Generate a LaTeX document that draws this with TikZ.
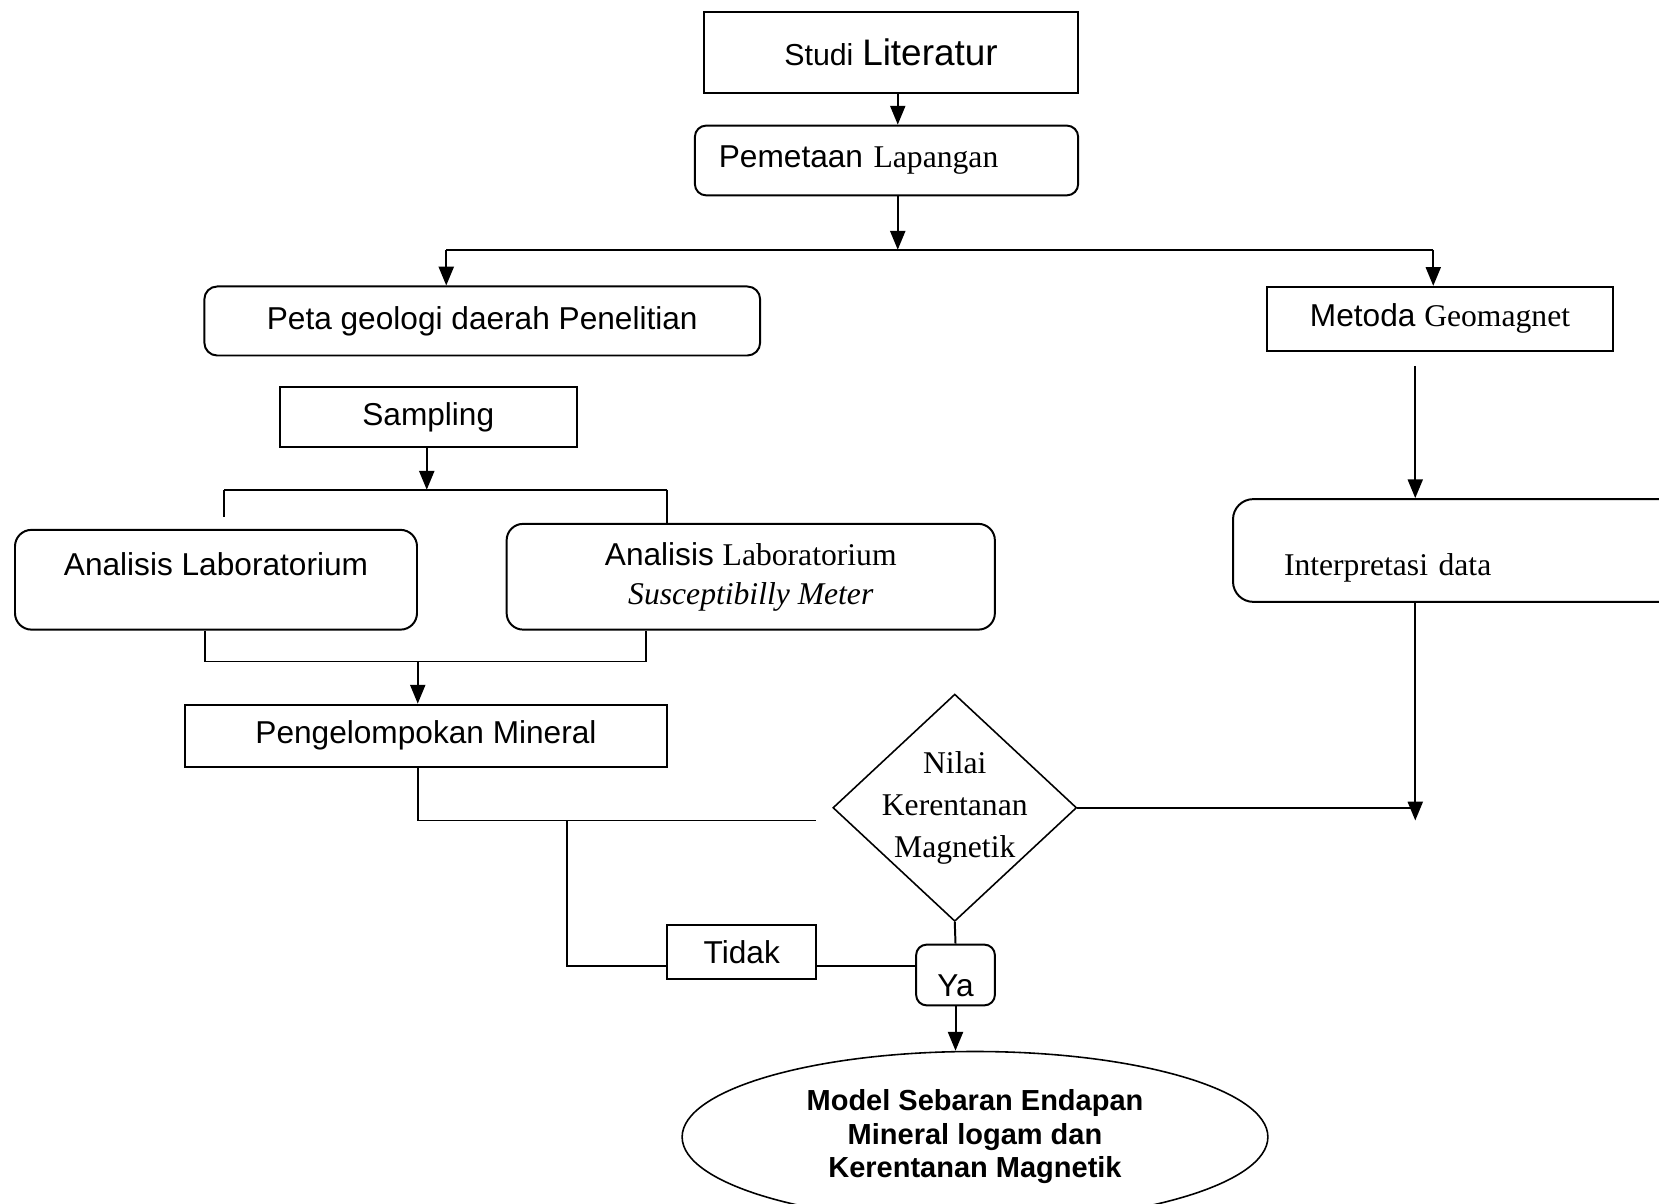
\documentclass[tikz,border=0pt]{standalone}
\usepackage{fontspec}
\setmainfont{Liberation Sans}
\newfontfamily\tnr{Liberation Serif}
\usetikzlibrary{arrows.meta,shapes.geometric}

\tikzset{
    box/.style      = {draw, line width=0.75pt, inner sep=0pt, font=\fontsize{12}{14.4}\selectfont},
    roundbox/.style = {box, rounded corners=0.22cm},
    link/.style     = {line width=0.75pt},
    arrow/.style    = {link, -{Triangle[length=0.25cm, width=0.2cm]}},
}

\begin{document}
\begin{tikzpicture}
            \useasboundingbox (0.00, 0.00) rectangle (22.12, 16.05);
            % top of the chart
            \node[box,      minimum width=4.99cm, minimum height=1.08cm]                    (studi)    at (11.88, 15.35)
                 {{\fontsize{11.5}{14}\selectfont Studi} {\fontsize{14}{16}\selectfont Literatur}};
            \node[roundbox, rounded corners=0.15cm, minimum width=5.11cm, minimum height=0.93cm,
                  inner xsep=0.32cm, text width=4.47cm, align=left]                          (pemetaan) at (11.82, 13.91)
                 {Pemetaan {\tnr Lapangan}};
            \node[roundbox, rounded corners=0.17cm, minimum width=7.41cm, minimum height=0.92cm] (peta)     at ( 6.43, 11.77)
                 {Peta geologi daerah Penelitian};
            \node[box,      minimum width=4.61cm, minimum height=0.85cm]                    (metoda)   at (19.20, 11.80)
                 {Metoda {\tnr Geomagnet}};
            % left branch
            \node[box,      minimum width=3.96cm, minimum height=0.79cm]                    (sampling) at ( 5.71, 10.49)
                 {Sampling};
            \node[roundbox, minimum width=5.36cm, minimum height=1.33cm,
                  text height=0.30cm, text depth=0.42cm]                                    (anlab)    at ( 2.88,  8.32)
                 {Analisis Laboratorium};
            \node[roundbox, minimum width=6.51cm, minimum height=1.41cm, align=center,
                  font=\fontsize{12}{14.8}\selectfont]                                      (ansus)    at (10.01,  8.36)
                 {Analisis {\tnr Laboratorium}\\{\tnr\itshape Susceptibilly Meter}};
            \node[box,      minimum width=6.43cm, minimum height=0.83cm]                    (kelompok) at ( 5.68,  6.24)
                 {Pengelompokan Mineral};
            % right branch
            \node[roundbox, rounded corners=0.27cm, minimum width=6.56cm, minimum height=1.37cm,
                  inner xsep=0.68cm, text width=5.20cm, align=left,
                  text height=0.76cm, text depth=0.08cm, font=\tnr\fontsize{12}{14.4}\selectfont] (interp) at (19.72,  8.71)
                 {Interpretasi data};
            % decision and result
            \node[diamond, draw, line width=0.6pt, aspect=1.07, inner sep=-0.1cm,
                  minimum width=3.25cm, minimum height=3.03cm, align=center,
                  font=\tnr\fontsize{12}{15.9}\selectfont]                                  (nilai)    at (12.73,  5.28)
                 {Nilai\\Kerentanan\\Magnetik};
            \node[box,      minimum width=1.99cm, minimum height=0.72cm]                    (tidak)    at ( 9.89,  3.36)
                 {Tidak};
            \node[roundbox, rounded corners=0.14cm, minimum width=1.05cm, minimum height=0.81cm,
                  text height=0.64cm, text depth=0.08cm]                                    (ya)       at (12.74,  3.05)
                 {Ya};
            \node[ellipse, draw, line width=0.6pt, inner sep=0pt, minimum width=7.81cm, minimum height=2.28cm,
                  align=center, font=\bfseries\fontsize{11}{12.7}\selectfont]              (model)    at (13.00,  0.89)
                 {Model Sebaran Endapan\\Mineral logam dan\\Kerentanan Magnetik};

            % junctions
            \coordinate (split)  at (11.97, 12.72);
            \coordinate (left)   at ( 5.95, 12.72);
            \coordinate (right)  at (19.11, 12.72);
            \coordinate (fork)   at ( 5.69,  9.52);
            \coordinate (forkl)  at ( 2.99,  9.52);
            \coordinate (forkr)  at ( 8.89,  9.52);
            \coordinate (join)   at ( 5.57,  7.23);
            \coordinate (joinl)  at ( 2.73,  7.23);
            \coordinate (joinr)  at ( 8.61,  7.23);
            \coordinate (back)   at (10.88,  5.11);
            \coordinate (loop)   at ( 7.56,  5.11);
            \coordinate (no)     at ( 7.56,  3.17);
            \coordinate (geo)    at (18.87, 11.17);
            \coordinate (merge)  at (18.87,  5.11);

            \draw[arrow] (studi.south -| split)    -- (pemetaan.north -| split);
            \draw[arrow] (pemetaan.south -| split) -- (split);
            \draw[link]  (left) -- (right);
            \draw[arrow] (left)  -- (peta.north -| left);
            \draw[arrow] (right) -- (metoda.north -| right);

            \draw[arrow] (sampling.south -| fork) -- (fork);
            \draw[link]  (forkl) -- (forkr);
            \draw[link]  (forkl) -- ++(0,-0.36);
            \draw[link]  (forkr) -- (ansus.north -| forkr);
            \draw[link]  (anlab.south -| joinl) -- (joinl) -- (joinr) -- (ansus.south -| joinr);
            \draw[arrow] (join) -- (kelompok.north -| join);

            \draw[link]  (kelompok.south -| join) |- (back);
            \draw[link]  (loop) -- (no) -- (tidak.west |- no);
            \draw[link]  (tidak.east |- no) -- (ya.west |- no);
            \draw[link]  (nilai.south) -- (ya.north);
            \draw[arrow] (ya.south) -- (ya.south |- model.north);

            \draw[arrow] (geo) -- (interp.north -| geo);
            \draw[arrow] (interp.south -| geo) -- (merge);
            \draw[link]  (nilai.east) -- (nilai.east -| geo);
\end{tikzpicture}
\end{document}
